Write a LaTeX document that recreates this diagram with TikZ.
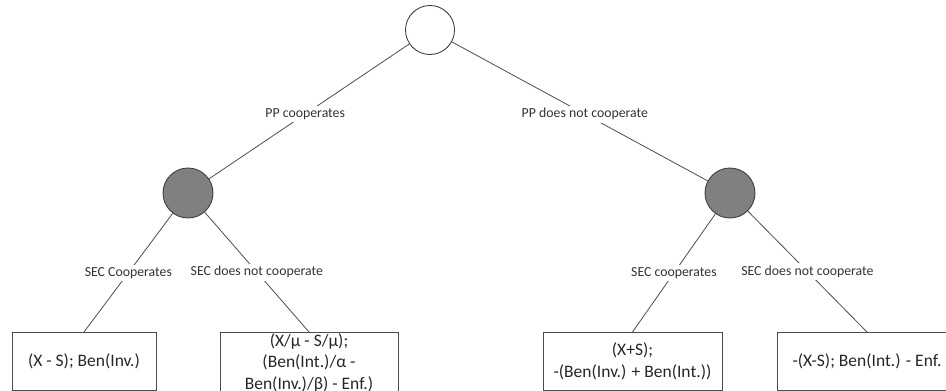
\documentclass[tikz,border=0pt]{standalone}
\usepackage{fontspec}
\setmainfont{Carlito}
\begin{document}
\begin{tikzpicture}[x=1pt,y=-1pt,
  edge/.style={draw=black!70, line width=0.8pt},
  chance/.style={circle, draw=black!75, line width=0.9pt, minimum size=49pt, inner sep=0pt},
  choice/.style={chance, fill=black!50, minimum size=50pt},
  payoff/.style={rectangle, draw=black!70, line width=0.8pt, minimum height=58pt, inner sep=1pt, align=center,
     font=\fontsize{17.5}{21.5}\selectfont, text=black!85, anchor=north},
  lbl/.style={fill=white, inner sep=2.5pt, font=\fontsize{13.8}{16}\selectfont, text=black!80}
]
\useasboundingbox (0,0) rectangle (946,391);

\node[chance] (root) at (430,30) {};
\node[choice] (g1) at (188,193) {};
\node[choice] (g2) at (730,193) {};

\node[payoff, minimum width=144pt] (b1) at (84,332) {(X - S); Ben(Inv.)};
\node[payoff, minimum width=178pt] (b2) at (309,332) {(X/µ - S/µ);\\(Ben(Int.)/α -\\Ben(Inv.)/β) - Enf.)};
\node[payoff, minimum width=179pt] (b3) at (632.5,332) {(X+S);\\-(Ben(Inv.) + Ben(Int.))};
\node[payoff, minimum width=180pt] (b4) at (867,332) {-(X-S); Ben(Int.) - Enf.};

\draw[edge] (root) -- node[lbl, pos=0.52] {PP cooperates} (g1);
\draw[edge] (root) -- node[lbl, pos=0.52] {PP does not cooperate} (g2);
\draw[edge] (g1) -- node[lbl] {SEC Cooperates} (b1.north);
\draw[edge] (g1) -- node[lbl] {SEC does not cooperate} (b2.north);
\draw[edge] (g2) -- node[lbl] {SEC cooperates} (b3.north);
\draw[edge] (g2) -- node[lbl] {SEC does not cooperate} (b4.north);
\end{tikzpicture}
\end{document}
